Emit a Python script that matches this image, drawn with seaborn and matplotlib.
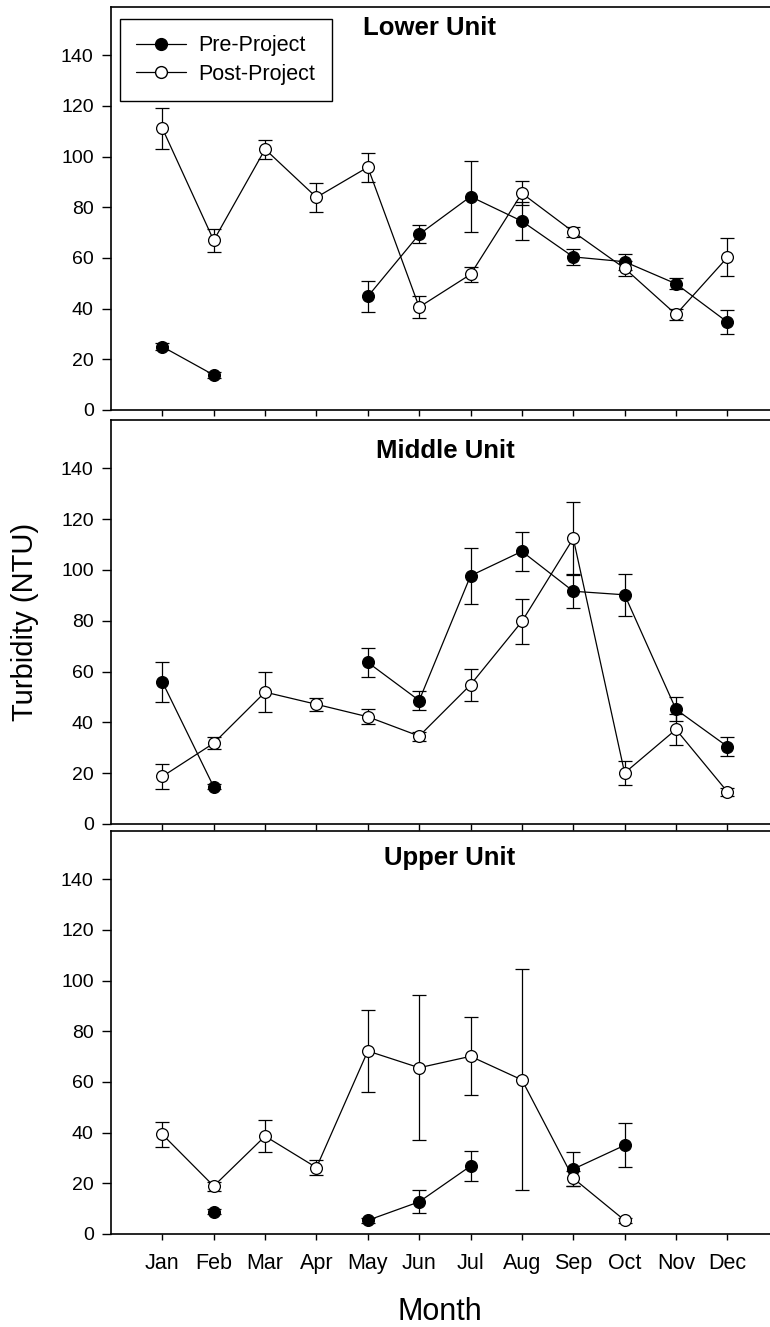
import numpy as np
import pandas as pd
import matplotlib
matplotlib.use('Agg')
import matplotlib.pyplot as plt
from matplotlib.lines import Line2D
import seaborn as sns

nan = np.nan

months = ['Jan', 'Feb', 'Mar', 'Apr', 'May', 'Jun',
          'Jul', 'Aug', 'Sep', 'Oct', 'Nov', 'Dec']
units = ['Lower Unit', 'Middle Unit', 'Upper Unit']

# Lower unit
lower_pre = [25.0, 13.8, nan, nan, 44.8, 69.3, 84.2, 74.5, 60.4, 58.5, 49.8, 34.7]
lower_pre_err = [1.5, 1.0, nan, nan, 6.1, 3.5, 14.0, 7.5, 3.1, 3.2, 2.2, 4.9]
lower_post = [111.1, 66.9, 102.9, 83.9, 95.8, 40.6, 53.5, 85.5, 70.3, 55.9, 37.7, 60.2]
lower_post_err = [8.2, 4.4, 3.8, 5.7, 5.7, 4.4, 3.0, 4.8, 2.0, 3.0, 2.0, 7.5]

# Middle unit
middle_pre = [55.9, 14.6, nan, nan, 63.6, 48.6, 97.7, 107.3, 91.6, 90.2, 45.1, 30.5]
middle_pre_err = [7.9, 1.0, nan, nan, 5.6, 3.9, 11.0, 7.8, 6.6, 8.2, 4.7, 3.8]
middle_post = [18.7, 31.8, 51.9, 47.1, 42.2, 34.6, 54.8, 79.7, 112.4, 20.1, 37.2, 12.7]
middle_post_err = [4.9, 2.4, 7.9, 2.5, 3.0, 1.8, 6.3, 9.0, 14.5, 4.6, 6.0, 1.5]

# Upper unit
upper_pre = [nan, 8.8, nan, nan, 5.4, 12.7, 26.8, nan, 25.6, 35.0, nan, nan]
upper_pre_err = [nan, 1.0, nan, nan, 1.0, 4.6, 5.9, nan, 6.6, 8.7, nan, nan]
upper_post = [39.3, 18.9, 38.6, 26.2, 72.2, 65.6, 70.1, 60.8, 22.0, 5.4, nan, nan]
upper_post_err = [5.0, 1.8, 6.2, 2.8, 16.1, 28.6, 15.4, 43.6, 3.0, 1.0, nan, nan]

pre_data = [(lower_pre, lower_pre_err), (middle_pre, middle_pre_err), (upper_pre, upper_pre_err)]
post_data = [(lower_post, lower_post_err), (middle_post, middle_post_err), (upper_post, upper_post_err)]

sns.set_style('ticks')
plt.rcParams['font.family'] = ['Liberation Sans', 'DejaVu Sans']
plt.rcParams.update({
    'text.color': 'black',
    'axes.labelcolor': 'black',
    'axes.edgecolor': 'black',
    'xtick.color': 'black',
    'ytick.color': 'black',
})

W, H = 770, 1327
fig = plt.figure(figsize=(W / 100, H / 100), dpi=100)

# panel boxes in pixels: (top, bottom)
panel_px = [(7, 410), (420, 824), (831, 1234)]
left_px = 111
# title centre x and baseline y in pixels
title_px = [(429.5, 35), (445, 457.7), (449.5, 865)]

x = np.arange(1, 13)


def draw_series(ax, vals, errs, face, z):
    df = pd.DataFrame({'month': x, 'value': vals, 'err': errs})
    df['seg'] = df['value'].isna().cumsum()
    df = df.dropna(subset=['value'])
    ax.errorbar(df['month'], df['value'], yerr=df['err'], fmt='none',
                ecolor='black', elinewidth=0.9, capsize=4.7, capthick=0.9,
                zorder=z)
    sns.lineplot(data=df, x='month', y='value', units='seg', estimator=None,
                 color='black', linewidth=0.9, marker='o', markersize=8.5,
                 markerfacecolor=face, markeredgecolor='black',
                 markeredgewidth=0.9, legend=False, ax=ax, zorder=z + 0.5)


for i, (top, bot) in enumerate(panel_px):
    ax = fig.add_axes([left_px / W, 1 - bot / H, (W - left_px) / W, (bot - top) / H])
    draw_series(ax, *pre_data[i], 'black', 3)
    draw_series(ax, *post_data[i], 'white', 4)

    ax.set_xlim(0, 12.83)
    ax.set_ylim(0, 159)
    ax.set_xticks(x)
    ax.set_xticklabels(months if i == 2 else [])
    ax.set_yticks(np.arange(0, 141, 20))
    ax.set_xlabel('')
    ax.set_ylabel('')
    ax.spines['right'].set_visible(False)
    for s in ['left', 'top', 'bottom']:
        ax.spines[s].set_linewidth(1.2)
    ax.tick_params(axis='y', direction='out', length=6.5, width=1, pad=6,
                   labelsize=14)
    ax.tick_params(axis='x', direction='out', length=4.5, width=1, pad=9,
                   labelsize=15.5)

    tx, ty = title_px[i]
    fig.text(tx / W, 1 - ty / H, units[i], ha='center', va='baseline',
             fontsize=18.5, fontweight='bold')

    if i == 0:
        handles = [
            Line2D([], [], color='black', linewidth=0.9, marker='o', markersize=8.5,
                   markerfacecolor='black', markeredgecolor='black'),
            Line2D([], [], color='black', linewidth=0.9, marker='o', markersize=8.5,
                   markerfacecolor='white', markeredgecolor='black'),
        ]
        leg = ax.legend(handles, ['Pre-Project', 'Post-Project'],
                        loc='upper left', bbox_to_anchor=(0.0137, 0.970),
                        borderaxespad=0, fontsize=15.5, handlelength=2.3,
                        handletextpad=0.6, labelspacing=0.35, borderpad=0.75,
                        fancybox=False, framealpha=1, edgecolor='black')
        leg.get_frame().set_linewidth(1.0)

fig.text(25 / W, 1 - 622 / H, 'Turbidity (NTU)', rotation=90,
         ha='center', va='center', fontsize=21)
fig.text(440 / W, 1 - 1320 / H, 'Month', ha='center', va='baseline',
         fontsize=22)

fig.savefig('out.png', dpi=100)
